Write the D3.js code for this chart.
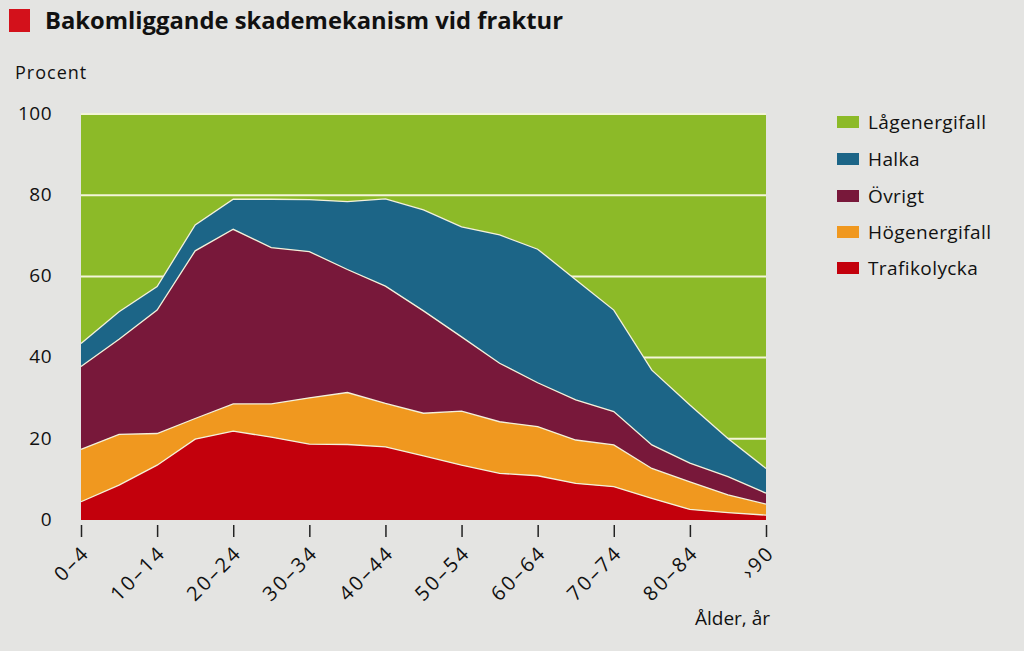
<!DOCTYPE html>
<html>
<head>
<meta charset="utf-8">
<script src="https://cdn.jsdelivr.net/npm/d3@7"></script>
<style>
  html, body { margin: 0; padding: 0; background: #e4e4e2; }
  svg { display: block; font-family: "Open Sans", Lato, sans-serif; }
</style>
</head>
<body>
<svg id="chart" width="1024" height="651"></svg>
<script>
const categories = ["0–4","5–9","10–14","15–19","20–24","25–29","30–34","35–39","40–44","45–49","50–54","55–59","60–64","65–69","70–74","75–79","80–84","85–89","›90"];
const tickLabels = ["0–4","10–14","20–24","30–34","40–44","50–54","60–64","70–74","80–84","›90"];
const yTicks = [0, 20, 40, 60, 80, 100];

const trafikolycka  = [4.5, 8.6, 13.5, 19.9, 21.9, 20.4, 18.7, 18.6, 18.0, 15.8, 13.5, 11.5, 10.9, 9.0, 8.2, 5.3, 2.6, 1.8, 1.2];
const hogenergifall = [12.9, 12.5, 7.8, 5.1, 6.7, 8.2, 11.4, 12.8, 10.7, 10.5, 13.3, 12.7, 12.1, 10.7, 10.3, 7.4, 6.8, 4.4, 2.7];
const ovrigt        = [20.4, 23.4, 30.4, 41.3, 43.0, 38.5, 36.0, 30.3, 28.9, 25.2, 18.3, 14.4, 10.8, 9.9, 8.2, 5.8, 4.6, 4.5, 2.7];
const halka         = [5.7, 6.8, 5.8, 6.4, 7.4, 11.9, 12.8, 16.7, 21.5, 24.9, 27.1, 31.6, 32.9, 29.6, 25.0, 18.4, 14.3, 9.4, 6.1];
const lagenergifall = [56.5, 48.7, 42.5, 27.3, 21.0, 21.0, 21.1, 21.6, 20.9, 23.6, 27.8, 29.8, 33.3, 40.5, 48.3, 63.1, 71.7, 79.9, 87.3];

const seriesNames = ["Trafikolycka","Högenergifall","Övrigt","Halka","Lågenergifall"];
const seriesValues = [trafikolycka, hogenergifall, ovrigt, halka, lagenergifall];
const seriesColors = ["#c3000c","#f0981f","#78183a","#1c6587","#8cba28"];
const legendOrder = ["Lågenergifall","Halka","Övrigt","Högenergifall","Trafikolycka"];

const rows = categories.map((c, i) => {
  const r = { cat: c };
  seriesNames.forEach((n, k) => r[n] = seriesValues[k][i]);
  return r;
});

const svg = d3.select("#chart");
const x = d3.scalePoint().domain(categories).range([81, 766]);
const y = d3.scaleLinear().domain([0, 100]).range([520, 114]);

// Title
svg.append("rect").attr("x", 9).attr("y", 9).attr("width", 21).attr("height", 23).attr("fill", "#d3111b");
svg.append("text").attr("x", 45).attr("y", 29).attr("font-size", 23).attr("font-weight", 700)
  .attr("fill", "#111").attr("textLength", 518).attr("lengthAdjust", "spacingAndGlyphs")
  .text("Bakomliggande skademekanism vid fraktur");

svg.append("text").attr("x", 15).attr("y", 79).attr("font-size", 18).attr("letter-spacing", 1)
  .attr("fill", "#111").text("Procent");

// Plot background (lowest visible layer = top series fill)
svg.append("rect").attr("x", x.range()[0]).attr("y", y(100)).attr("width", x.range()[1] - x.range()[0])
  .attr("height", y(0) - y(100)).attr("fill", seriesColors[4]);

// gridlines
svg.append("g").selectAll("line").data(yTicks.filter(t => t > 0)).join("line")
  .attr("x1", x.range()[0]).attr("x2", x.range()[1])
  .attr("y1", d => y(d)).attr("y2", d => y(d))
  .attr("stroke", "#f3f5d8").attr("stroke-width", 2);

const stack = d3.stack().keys(seriesNames.slice(0, 4));
const stacked = stack(rows);
const area = d3.area().x(d => x(d.data.cat)).y0(d => y(d[0])).y1(d => y(d[1]));
const line = d3.line().x(d => x(d.data.cat)).y(d => y(d[1]));

svg.append("g").selectAll("path").data(stacked).join("path")
  .attr("d", area).attr("fill", (d, i) => seriesColors[i]);
svg.append("g").selectAll("path").data(stacked).join("path")
  .attr("d", line).attr("fill", "none").attr("stroke", "#f4f1dc").attr("stroke-width", 1.3);

// Y axis labels
svg.append("g").selectAll("text").data(yTicks).join("text")
  .attr("x", 52).attr("y", d => y(d)).attr("dy", "0.3em").attr("text-anchor", "end")
  .attr("font-size", 19).attr("letter-spacing", 0.5).attr("fill", "#111").text(d => d);

// X axis
const xAxis = d3.axisBottom(x).tickValues(tickLabels).tickSize(12).tickPadding(0).tickFormat("");
const gx = svg.append("g").attr("transform", "translate(0,525)").call(xAxis);
gx.select(".domain").remove();
gx.selectAll(".tick line").attr("stroke", "#222").attr("stroke-width", 1.5);

svg.append("g").selectAll("text").data(tickLabels).join("text")
  .attr("transform", d => `translate(${x(d) + 5},${549}) rotate(-45)`)
  .attr("text-anchor", "end").attr("dy", "0.35em")
  .attr("font-size", 20).attr("letter-spacing", 2.5).attr("fill", "#111").text(d => d);

svg.append("text").attr("x", 770).attr("y", 625).attr("text-anchor", "end")
  .attr("font-size", 19).attr("fill", "#111").text("Ålder, år");

// Legend
const legendY = [122, 159, 196, 232, 268];
const lg = svg.append("g").selectAll("g").data(legendOrder).join("g")
  .attr("transform", (d, i) => `translate(837,${legendY[i]})`);
lg.append("rect").attr("x", 0).attr("y", -6).attr("width", 22).attr("height", 12)
  .attr("fill", d => seriesColors[seriesNames.indexOf(d)]);
lg.append("text").attr("x", 31).attr("y", 0).attr("dy", "0.35em").attr("font-size", 19)
  .attr("letter-spacing", 0.4).attr("fill", "#111").text(d => d);
</script>
</body>
</html>
